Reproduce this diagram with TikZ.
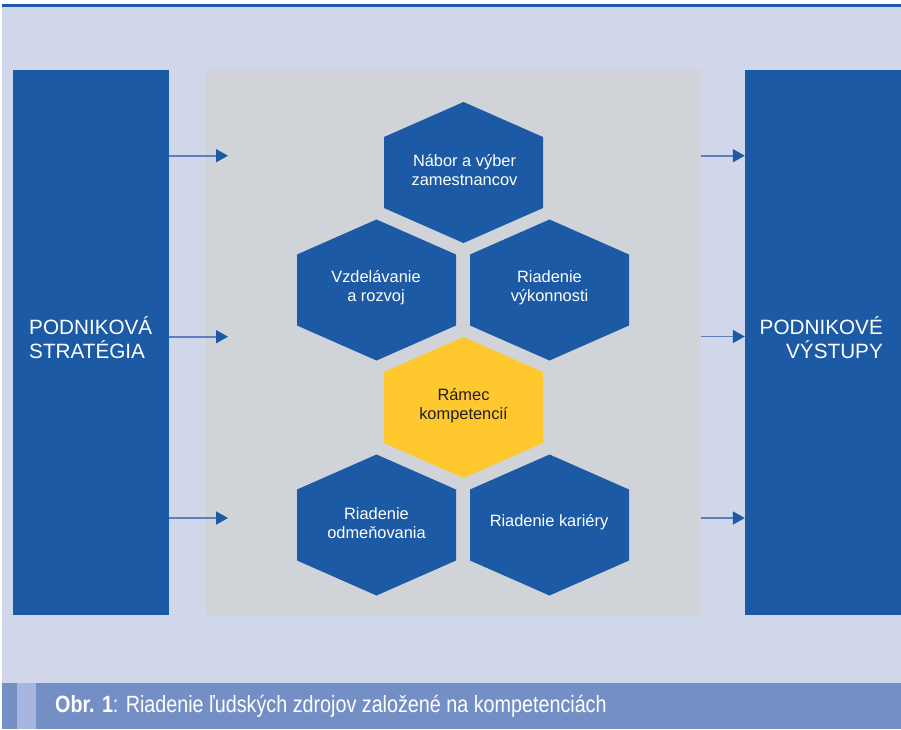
\documentclass[tikz,border=0pt]{standalone}
\usepackage{fontspec}
\setmainfont{Liberation Sans}
\newfontfamily\capfont[FakeStretch=0.84]{Liberation Sans}
\usetikzlibrary{arrows.meta}
\definecolor{lav}{HTML}{D1D7EA}
\definecolor{panelgray}{HTML}{D0D4D8}
\definecolor{hexblue}{HTML}{1C5AA5}
\definecolor{hexyellow}{HTML}{FEC82E}
\definecolor{capbar}{HTML}{748FC6}
\definecolor{capstripe}{HTML}{A6B6DE}
\definecolor{arrline}{HTML}{5A80C2}
\definecolor{darktext}{HTML}{231F20}
\newcommand\hexat[3]{%
  \fill[#3] (#1-79.5,#2-35.5) -- (#1,#2-70.5) -- (#1+79.5,#2-35.5) --
    (#1+79.5,#2+35.5) -- (#1,#2+70.5) -- (#1-79.5,#2+35.5) -- cycle;}
\tikzset{
  hextext/.style={inner sep=0pt, align=center, text=white,
    font=\fontsize{16.4}{19}\selectfont},
  boxtext/.style={inner sep=0pt, text=white,
    font=\fontsize{20.7}{24}\selectfont},
  bigbox/.style={fill=hexblue, draw=none, inner sep=0pt},
  flowarrow/.style={draw=arrline, line width=1.8pt,
    -{Triangle[length=12pt,width=13pt,color=hexblue]}}
}
\begin{document}
\begin{tikzpicture}[x=1pt,y=-1pt]
\useasboundingbox (0,0) rectangle (901,729);
\fill[white] (0,0) rectangle (901,729);
\fill[lav] (2,4) rectangle (901,683);
\fill[hexblue] (2,4.3) rectangle (901,7.3);
\fill[capbar] (2,683) rectangle (901,729);
\fill[capstripe] (17,683) rectangle (36,729);

% panels
\node[bigbox, minimum width=155.7pt, minimum height=544.5pt] (strat) at (90.85,342.25) {};
\node[fill=panelgray, inner sep=0pt, minimum width=495pt, minimum height=546pt] (panel) at (453.5,342) {};
\node[bigbox, minimum width=156pt, minimum height=544.5pt] (out) at (823,342.25) {};

\node[boxtext, anchor=west, align=left] (strattext) at (29,338) {PODNIKOVÁ\\STRATÉGIA};
\node[boxtext, anchor=east, align=right] (outtext) at (883,338) {PODNIKOVÉ\\VÝSTUPY};

% hexagons
\hexat{463.5}{172.5}{hexblue}
\hexat{376.5}{290}{hexblue}
\hexat{549.5}{290}{hexblue}
\hexat{463.5}{407.5}{hexyellow}
\hexat{376.5}{525}{hexblue}
\hexat{549.5}{525}{hexblue}

\node[hextext] (nabor) at (464.5,170.5) {Nábor a výber\\zamestnancov};
\node[hextext] (vzdel) at (376,288) {Vzdelávanie\\a rozvoj};
\node[hextext] (vykon) at (549.5,288) {Riadenie\\výkonnosti};
\node[hextext, text=darktext] (ramec) at (463.5,405.5) {Rámec\\kompetencií};
\node[hextext] (odmen) at (376.5,523) {Riadenie\\odmeňovania};
\node[hextext] (kariera) at (549,522.5) {Riadenie kariéry};

% arrows
\coordinate (la1) at (228,155.7);
\coordinate (la2) at (228,336.7);
\coordinate (la3) at (228,518);
\coordinate (ra1) at (panel.east |- 0,155.7);
\coordinate (ra2) at (panel.east |- 0,336.5);
\coordinate (ra3) at (panel.east |- 0,518);
\draw[flowarrow] (strat.east |- la1) -- (la1);
\draw[flowarrow] (strat.east |- la2) -- (la2);
\draw[flowarrow] (strat.east |- la3) -- (la3);
\draw[flowarrow] (ra1) -- (out.west |- ra1);
\draw[flowarrow] (ra2) -- (out.west |- ra2);
\draw[flowarrow] (ra3) -- (out.west |- ra3);

% caption
\node[anchor=base west, inner sep=0pt, text=white,
  font=\capfont\fontsize{23.5}{26}\selectfont] (caption) at (55,712.5)
  {\textbf{Obr. 1}: Riadenie ľudských zdrojov založené na kompetenciách};
\end{tikzpicture}
\end{document}
